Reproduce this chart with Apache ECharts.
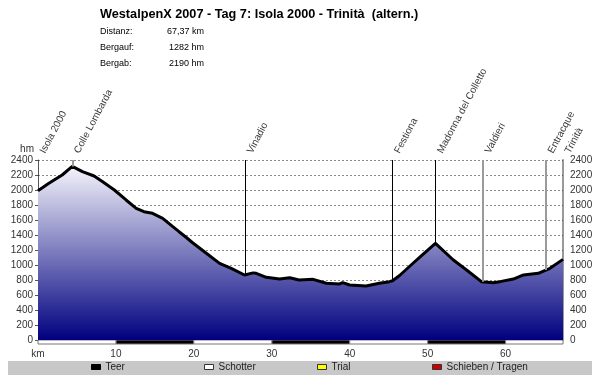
<!DOCTYPE html>
<html><head><meta charset="utf-8">
<script src="https://cdn.jsdelivr.net/npm/echarts@6/dist/echarts.min.js"></script>
<style>html,body{margin:0;padding:0;background:#fff}#c{width:600px;height:375px}</style>
</head><body><div id="c"></div>
<script>
// ---- data ----
const titleText = 'WestalpenX 2007 - Tag 7: Isola 2000 - Trinità  (altern.)';
const statLabels = ['Distanz:', 'Bergauf:', 'Bergab:'];
const statValues = ['67,37 km', '1282 hm', '2190 hm'];

const profileKm = [0, 1.4, 3.1, 4.4, 5.7, 7.2, 8.3, 9.8, 11.3, 12.6, 13.6, 14.7, 16.0, 17.3, 18.1, 19.0, 19.8, 20.3, 21.6, 23.3, 24.8, 26.5, 27.6, 28.0, 29.3, 31.0, 32.3, 33.5, 35.3, 37.0, 38.7, 39.1, 40.0, 42.1, 43.8, 45.1, 45.5, 46.4, 48.3, 49.0, 51.0, 53.3, 55.0, 56.9, 58.4, 59.3, 61.0, 62.3, 64.2, 65.7, 67.37];
const profileElev = [1991, 2089, 2200, 2315, 2244, 2187, 2111, 2000, 1867, 1756, 1711, 1689, 1622, 1511, 1444, 1370, 1300, 1260, 1156, 1022, 956, 867, 895, 889, 836, 813, 831, 800, 809, 756, 747, 765, 733, 720, 756, 778, 790, 860, 1040, 1105, 1289, 1067, 933, 778, 764, 778, 813, 867, 889, 956, 1075];

const waypointNames = ['Isola 2000', 'Colle Lombarda', 'Vinadio', 'Festiona', 'Madonna del Colletto', 'Valdieri', 'Entracque', 'Trinità'];
const waypointKm = [0, 4.4, 26.6, 45.5, 51.0, 57.1, 65.2, 67.37];
const waypointKind = ['edge', 'minor', 'major', 'major', 'major', 'minor', 'minor', 'edge'];

const yTicks = [0, 200, 400, 600, 800, 1000, 1200, 1400, 1600, 1800, 2000, 2200, 2400];
const kmMax = 67.37;
const kmStep = 10;

const teerSegments = [[10, 20], [30, 40], [50, 60]];
const schotterSegments = [[0, 10], [20, 30], [40, 50], [60, 67.37]];
const legendNames = ['Teer', 'Schotter', 'Trial', 'Schieben / Tragen'];

// ---- helpers ----
function elevAt(km) {
  for (let i = 0; i < profileKm.length - 1; i++) {
    if (km >= profileKm[i] && km <= profileKm[i + 1]) {
      const t = (km - profileKm[i]) / (profileKm[i + 1] - profileKm[i]);
      return profileElev[i] + t * (profileElev[i + 1] - profileElev[i]);
    }
  }
  return profileElev[profileElev.length - 1];
}
const yMax = yTicks[yTicks.length - 1];
const yStep = yTicks[1] - yTicks[0];
const FONT = 'Liberation Sans, Arial, sans-serif';
const lineKindStyle = {
  edge: { color: '#000', width: 0 },
  major: { color: '#000', width: 1 },
  minor: { color: '#9a9a9a', width: 2 }
};
const legendLefts = [91, 204, 317, 432];
const legendColors = { 'Teer': '#000000', 'Schotter': '#ffffff', 'Trial': '#ffff00', 'Schieben / Tragen': '#cc0000' };

const chart = echarts.init(document.getElementById('c'), null, { renderer: 'canvas' });

const waypointLines = waypointNames.map((n, i) => {
  const st = lineKindStyle[waypointKind[i]];
  return [
    { coord: [waypointKm[i], yMax], lineStyle: { color: st.color, width: st.width, type: 'solid' } },
    { coord: [waypointKm[i], elevAt(waypointKm[i])] }
  ];
}).filter((d, i) => waypointKind[i] !== 'edge');

const option = {
  animation: false,
  backgroundColor: '#fff',
  textStyle: { fontFamily: FONT },
  title: {
    text: titleText, left: 100, top: 8, padding: 0,
    textStyle: { fontFamily: FONT, fontSize: 12.7, fontWeight: 'bold', color: '#000' }
  },
  graphic: [
    { type: 'rect', left: 8, top: 361, z: -10, silent: true, shape: { width: 584, height: 14 }, style: { fill: '#c8c8c8' } }
  ].concat(statLabels.map((s, i) => ({
    type: 'text', left: 100, top: 27 + i * 16,
    style: { text: s, fontFamily: FONT, fontSize: 9, fill: '#000' }
  }))).concat(statValues.map((s, i) => ({
    type: 'text', x: 204, y: 27 + i * 16,
    style: { text: s, fontFamily: FONT, fontSize: 9, fill: '#000', textAlign: 'right', textVerticalAlign: 'top' }
  }))),
  legend: legendNames.map((n, i) => ({
    data: [{ name: n, icon: 'rect', itemStyle: { color: legendColors[n], borderColor: n === 'Teer' ? '#000' : '#333', borderWidth: 1 } }],
    left: legendLefts[i], top: 362, padding: 0,
    itemWidth: 9, itemHeight: 5, itemGap: 0,
    selectedMode: false,
    textStyle: { fontFamily: FONT, fontSize: 10, color: '#222' }
  })),
  grid: [
    { left: 38, right: 37, top: 160, bottom: 35 },
    { left: 38, right: 37, top: 340, height: 4 }
  ],
  xAxis: [
    {
      type: 'value', gridIndex: 0, min: 0, max: kmMax, interval: kmStep,
      axisLine: { show: false },
      axisTick: { show: false },
      splitLine: { show: false },
      axisLabel: {
        showMaxLabel: false, margin: 9, fontSize: 10, color: '#333', fontFamily: FONT,
        formatter: v => v === 0 ? 'km' : String(v)
      }
    },
    { type: 'value', gridIndex: 1, min: 0, max: kmMax, show: false }
  ],
  yAxis: [
    {
      type: 'value', gridIndex: 0, min: 0, max: yMax, interval: yStep, position: 'left',
      name: 'hm', nameLocation: 'end', nameGap: 6,
      nameTextStyle: { fontSize: 10, color: '#333', align: 'right', padding: [0, 4, 0, 0], fontFamily: FONT },
      axisLine: { show: true, lineStyle: { color: '#555', width: 1 } },
      axisTick: { show: true, length: 3, lineStyle: { color: '#555' } },
      splitLine: { show: false },
      axisLabel: { fontSize: 10, color: '#333', margin: 5, fontFamily: FONT, formatter: v => String(v) }
    },
    {
      type: 'value', gridIndex: 0, min: 0, max: yMax, interval: yStep, position: 'right',
      axisLine: { show: true, lineStyle: { color: '#9a9a9a', width: 2 } },
      axisTick: { show: false },
      splitLine: { show: false },
      axisLabel: { fontSize: 10, color: '#333', margin: 7, fontFamily: FONT, formatter: v => String(v) }
    },
    { type: 'value', gridIndex: 1, min: 0, max: 1, show: false }
  ],
  series: [
    {
      name: 'Profil', type: 'line', xAxisIndex: 0, yAxisIndex: 0,
      data: profileKm.map((k, i) => [k, profileElev[i]]),
      symbol: 'none', z: 3,
      lineStyle: { color: '#000', width: 3 },
      areaStyle: {
        opacity: 1,
        color: new echarts.graphic.LinearGradient(0, 0, 0, 1, [
          { offset: 0, color: '#f4f4fb' },
          { offset: 0.5, color: '#7a7abd' },
          { offset: 1, color: '#000080' }
        ])
      },
      markLine: {
        silent: true, symbol: ['none', 'none'], label: { show: false },
        data: waypointLines
      }
    },
    {
      name: 'grid', type: 'line', xAxisIndex: 0, yAxisIndex: 0, data: [], z: 2,
      markLine: {
        silent: true, symbol: ['none', 'none'], label: { show: false }, z: 2,
        lineStyle: { color: 'rgba(40,40,40,0.55)', width: 1, type: [2, 2] },
        data: yTicks.filter(v => v > 0).map(v => ({ yAxis: v }))
      }
    },
    {
      name: 'Orte', type: 'scatter', xAxisIndex: 0, yAxisIndex: 0, clip: false,
      symbolSize: 0, silent: true,
      data: waypointNames.map((n, i) => ({ name: n, value: [waypointKm[i], yMax] })),
      label: {
        show: true, formatter: p => p.name, position: [9, -5], rotate: 62,
        align: 'left', verticalAlign: 'bottom',
        fontSize: 10, color: '#000', fontFamily: FONT
      }
    },
    {
      name: 'Teer', type: 'line', xAxisIndex: 1, yAxisIndex: 2, data: [], color: '#000',
      markArea: {
        silent: true,
        itemStyle: { color: '#000', borderColor: '#777', borderWidth: 1 },
        data: teerSegments.map(s => [{ xAxis: s[0] }, { xAxis: s[1] }])
      }
    },
    {
      name: 'Schotter', type: 'line', xAxisIndex: 1, yAxisIndex: 2, data: [], color: '#fff',
      markArea: {
        silent: true,
        itemStyle: { color: '#fff', borderColor: '#777', borderWidth: 1 },
        data: schotterSegments.map(s => [{ xAxis: s[0] }, { xAxis: s[1] }])
      }
    },
    { name: 'Trial', type: 'line', xAxisIndex: 1, yAxisIndex: 2, data: [], color: '#ffff00' },
    { name: 'Schieben / Tragen', type: 'line', xAxisIndex: 1, yAxisIndex: 2, data: [], color: '#cc0000' }
  ]
};
chart.setOption(option);
</script>
</body></html>
